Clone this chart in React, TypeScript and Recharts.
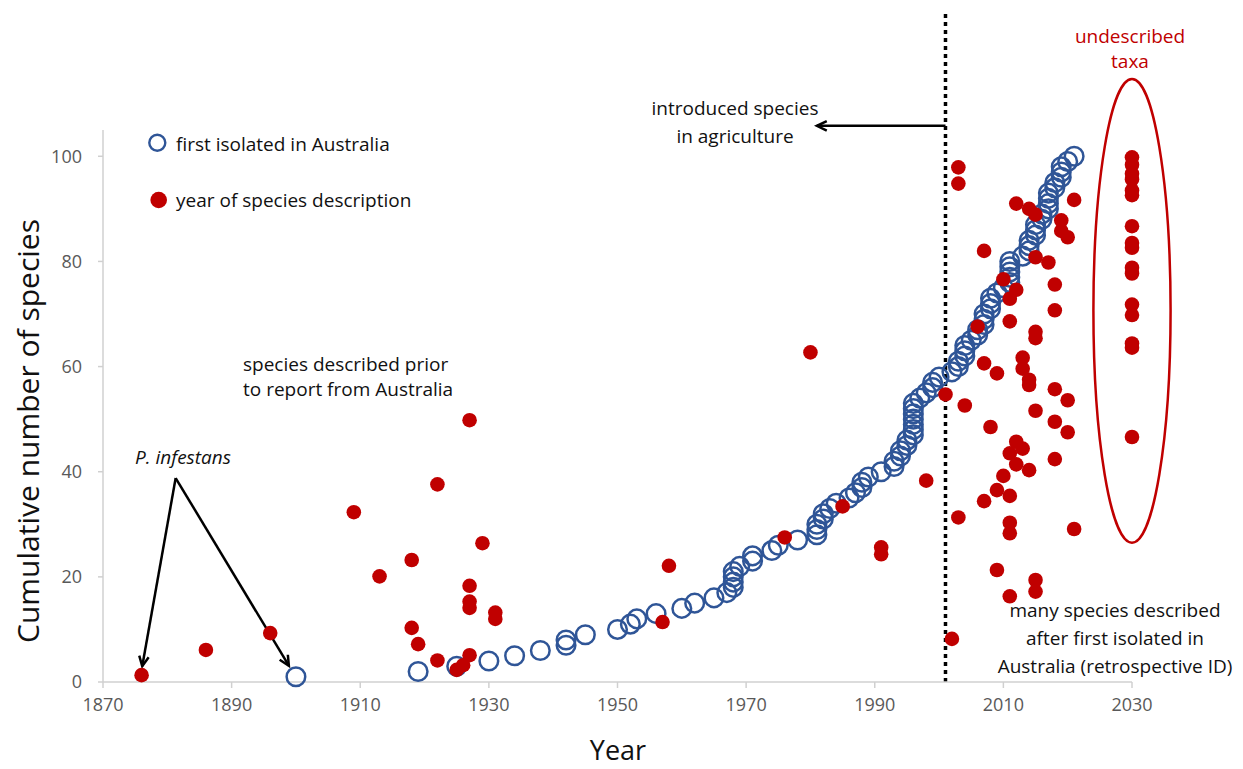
import React from "react";
import {
  ScatterChart,
  Scatter,
  XAxis,
  YAxis,
  ReferenceLine,
  ReferenceArea,
} from "recharts";

// Axis ticks
const X_TICKS = [1870, 1890, 1910, 1930, 1950, 1970, 1990, 2010, 2030];
const Y_TICKS = [0, 20, 40, 60, 80, 100];

// First isolated in Australia (cumulative count vs year)
const isolatedYears = [
  1900, 1919, 1925, 1930, 1934, 1938, 1942, 1942, 1945, 1950,
  1952, 1953, 1956, 1960, 1962, 1965, 1967, 1968, 1968, 1968,
  1968, 1969, 1971, 1971, 1974, 1975, 1978, 1981, 1981, 1981,
  1982, 1982, 1983, 1984, 1986, 1987, 1988, 1988, 1989, 1991,
  1993, 1993, 1994, 1994, 1995, 1995, 1996, 1996, 1996, 1996,
  1996, 1996, 1996, 1997, 1998, 1999, 1999, 2000, 2002, 2003,
  2003, 2004, 2004, 2004, 2005, 2006, 2006, 2007, 2007, 2007,
  2008, 2008, 2008, 2009, 2010, 2011, 2011, 2011, 2011, 2011,
  2013, 2014, 2014, 2014, 2015, 2015, 2015, 2016, 2016, 2017,
  2017, 2017, 2017, 2018, 2018, 2019, 2019, 2019, 2020, 2021,
];
const isolatedCounts = [
  1, 2, 3, 4, 5, 6, 7, 8, 9, 10,
  11, 12, 13, 14, 15, 16, 17, 18, 19, 20,
  21, 22, 23, 24, 25, 26, 27, 28, 29, 30,
  31, 32, 33, 34, 35, 36, 37, 38, 39, 40,
  41, 42, 43, 44, 45, 46, 47, 48, 49, 50,
  51, 52, 53, 54, 55, 56, 57, 58, 59, 60,
  61, 62, 63, 64, 65, 66, 67, 68, 69, 70,
  71, 72, 73, 74, 75, 76, 77, 78, 79, 80,
  81, 82, 83, 84, 85, 86, 87, 88, 89, 90,
  91, 92, 93, 94, 95, 96, 97, 98, 99, 100,
];

// Year of species description (2030 column = undescribed taxa)
const describedYears = [
  1876, 1886, 1896, 1909, 1913, 1918, 1918, 1919, 1922, 1922,
  1925, 1926, 1927, 1927, 1927, 1927, 1927, 1929, 1931, 1931,
  1957, 1958, 1976, 1980, 1985, 1991, 1991, 1998,
  2001, 2002, 2003, 2003, 2003, 2004, 2006, 2007, 2007, 2007,
  2008, 2009, 2009, 2009, 2010, 2010, 2011, 2011, 2011, 2011,
  2011, 2011, 2011, 2012, 2012, 2012, 2012, 2013, 2013, 2013,
  2014, 2014, 2014, 2014, 2015, 2015, 2015, 2015, 2015, 2015,
  2015, 2017, 2018, 2018, 2018, 2018, 2018, 2019, 2019, 2020,
  2020, 2020, 2021, 2021,
  2030, 2030, 2030, 2030, 2030, 2030, 2030, 2030, 2030, 2030,
  2030, 2030, 2030, 2030, 2030, 2030,
];
const describedCounts = [
  1.3, 6.1, 9.3, 32.3, 20.1, 23.2, 10.3, 7.2, 37.6, 4.1,
  2.3, 3.2, 5.1, 18.3, 15.3, 14.1, 49.8, 26.4, 13.2, 12.0,
  11.4, 22.1, 27.5, 62.7, 33.4, 25.6, 24.3, 38.3,
  54.7, 8.2, 97.9, 94.8, 31.3, 52.6, 67.6, 82.0, 60.6, 34.4,
  48.5, 58.7, 36.5, 21.3, 76.6, 39.2, 72.9, 68.6, 43.5, 35.4,
  30.3, 28.3, 16.3, 91.0, 74.6, 45.7, 41.4, 61.7, 59.6, 44.4,
  90.0, 57.5, 56.5, 40.3, 88.9, 80.8, 66.6, 65.4, 51.6, 19.4,
  17.2, 79.8, 75.6, 70.7, 55.7, 49.5, 42.4, 87.8, 85.8, 84.6,
  53.6, 47.5, 91.7, 29.1,
  99.8, 98.4, 96.7, 95.6, 93.5, 92.6, 86.7, 83.5, 82.6, 78.8,
  77.7, 71.8, 69.8, 64.4, 63.6, 46.6,
];

const BLUE = "#2F5597";
const RED = "#C00000";
const FONT = "'Open Sans', sans-serif";

const isolatedData = isolatedYears.map((x, i) => ({ x, y: isolatedCounts[i] }));
const describedData = describedYears.map((x, i) => ({ x, y: describedCounts[i] }));

const OpenCircle = (p: any) => (
  <circle cx={p.cx} cy={p.cy} r={9.3} fill="none" stroke={BLUE} strokeWidth={2.5} />
);
const FilledDot = (p: any) => <circle cx={p.cx} cy={p.cy} r={7.3} fill={RED} />;

// line with an open arrowhead at its end point
const ArrowSegment = (p: any) => {
  const { x1, y1, x2, y2 } = p;
  const ang = Math.atan2(y2 - y1, x2 - x1);
  const len = 11;
  const a1 = ang + Math.PI - 0.45;
  const a2 = ang + Math.PI + 0.45;
  const pts = `${x2 + len * Math.cos(a1)},${y2 + len * Math.sin(a1)} ${x2},${y2} ${
    x2 + len * Math.cos(a2)
  },${y2 + len * Math.sin(a2)}`;
  return (
    <g>
      <line x1={x1} y1={y1} x2={x2} y2={y2} stroke="#000" strokeWidth={2.5} />
      <polyline points={pts} fill="none" stroke="#000" strokeWidth={2.5} />
    </g>
  );
};

const EllipseShape = (p: any) => (
  <ellipse
    cx={p.x + p.width / 2}
    cy={p.y + p.height / 2}
    rx={Math.abs(p.width) / 2}
    ry={Math.abs(p.height) / 2}
    fill="none"
    stroke={RED}
    strokeWidth={2.5}
  />
);

const tickStyle = { fill: "#595959", fontSize: 18, fontFamily: FONT };

export default function App() {
  return (
    <div style={{ position: "absolute", left: 0, top: 0, width: 1243, height: 769, background: "#fff" }}>
      <ScatterChart
        width={1243}
        height={769}
        margin={{ top: 130, right: 111, bottom: 27, left: 43 }}
      >
        <XAxis
          type="number"
          dataKey="x"
          domain={[1870, 2030]}
          ticks={X_TICKS}
          interval={0}
          height={60}
          tick={tickStyle}
          stroke="#D0D0D0"
          strokeWidth={1.5}
          tickSize={6}
          tickMargin={10}
        />
        <YAxis
          type="number"
          dataKey="y"
          domain={[0, 105]}
          ticks={Y_TICKS}
          interval={0}
          width={60}
          tick={tickStyle}
          stroke="#D0D0D0"
          strokeWidth={1.5}
          tickSize={5}
          tickMargin={16}
        />
        <ReferenceArea
          x1={2024}
          x2={2036}
          y1={26.5}
          y2={114.7}
          ifOverflow="visible"
          shape={EllipseShape}
        />
        <ReferenceLine
          segment={[
            { x: 2001, y: 0 },
            { x: 2001, y: 127.5 },
          ]}
          ifOverflow="visible"
          stroke="#000"
          strokeWidth={3.5}
          strokeDasharray="4 4"
        />
        <ReferenceLine
          segment={[
            { x: 2001, y: 105.8 },
            { x: 1981, y: 105.8 },
          ]}
          ifOverflow="visible"
          shape={ArrowSegment}
        />
        <ReferenceLine
          segment={[
            { x: 1881.3, y: 38.8 },
            { x: 1876.1, y: 3.0 },
          ]}
          ifOverflow="visible"
          shape={ArrowSegment}
        />
        <ReferenceLine
          segment={[
            { x: 1881.3, y: 38.8 },
            { x: 1898.9, y: 3.1 },
          ]}
          ifOverflow="visible"
          shape={ArrowSegment}
        />
        <Scatter
          name="first isolated in Australia"
          data={isolatedData}
          shape={OpenCircle}
          isAnimationActive={false}
        />
        <Scatter
          name="year of species description"
          data={describedData}
          shape={FilledDot}
          isAnimationActive={false}
        />
      </ScatterChart>

      {/* legend, titles and annotations */}
      <svg
        width={1243}
        height={769}
        style={{ position: "absolute", left: 0, top: 0, pointerEvents: "none" }}
        fontFamily={FONT}
      >
        <circle cx={157.3} cy={142.7} r={8} fill="none" stroke={BLUE} strokeWidth={2.4} />
        <text x={176} y={151} fontSize={19} fill="#111">first isolated in Australia</text>
        <circle cx={158.7} cy={200} r={8.3} fill={RED} />
        <text x={176} y={207} fontSize={19} fill="#111">year of species description</text>

        <text x={618} y={760} fontSize={27} textAnchor="middle" fill="#111">Year</text>
        <text
          x={0}
          y={0}
          fontSize={30}
          textAnchor="middle"
          fill="#111"
          transform="translate(39, 431) rotate(-90)"
        >
          Cumulative number of species
        </text>

        <text x={183} y={464} fontSize={19} fontStyle="italic" textAnchor="middle" fill="#111">
          P. infestans
        </text>
        <text x={243} y={371} fontSize={19} fill="#111">species described prior</text>
        <text x={243} y={396} fontSize={19} fill="#111">to report from Australia</text>

        <text x={735} y={115} fontSize={19} textAnchor="middle" fill="#111">introduced species</text>
        <text x={735} y={143} fontSize={19} textAnchor="middle" fill="#111">in agriculture</text>

        <text x={1130} y={43} fontSize={19} textAnchor="middle" fill={RED}>undescribed</text>
        <text x={1130} y={68} fontSize={19} textAnchor="middle" fill={RED}>taxa</text>

        <text x={1115} y={617} fontSize={19} textAnchor="middle" fill="#111">many species described</text>
        <text x={1115} y={645} fontSize={19} textAnchor="middle" fill="#111">after first isolated in</text>
        <text x={1115} y={673} fontSize={19} textAnchor="middle" fill="#111">Australia (retrospective ID)</text>
      </svg>
    </div>
  );
}
